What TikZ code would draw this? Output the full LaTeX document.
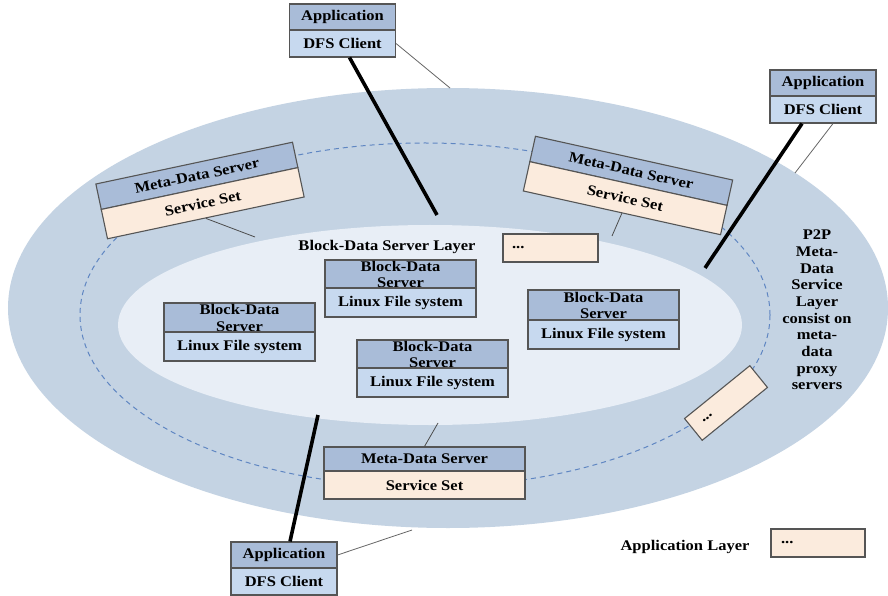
\documentclass[tikz,border=0pt]{standalone}
\usepackage{fontspec}
\setmainfont{Liberation Serif}[FakeStretch=1.12]
\usetikzlibrary{calc}
\definecolor{outerbg}{HTML}{C4D3E3}
\definecolor{innerbg}{HTML}{E8EEF6}
\definecolor{hdrc}{HTML}{A9BCD8}
\definecolor{bodyc}{HTML}{C7D9EF}
\definecolor{peach}{HTML}{FBEBDD}
\definecolor{edge}{HTML}{555555}
\definecolor{dashc}{HTML}{5F86C2}
\begin{document}
\begin{tikzpicture}[x=1bp,y=-1bp,
  every node/.style={font=\fontsize{14.8}{16.7}\selectfont\bfseries, text=black},
  cell/.style={draw=edge, line width=1.1bp, inner sep=0pt},
  hdr/.style={cell, fill=hdrc},
  bdy/.style={cell, fill=bodyc},
  svc/.style={cell, fill=peach},
  thickconn/.style={line width=3.6bp, black},
  thinconn/.style={line width=0.8bp, draw=black!60},
  plain/.style={inner sep=0pt, align=center}]
\fill[white] (0,0) rectangle (888,596);
\useasboundingbox (0,0) rectangle (888,596);
% layers
\fill[outerbg] (448,308) ellipse [x radius=440bp, y radius=220bp];
\fill[innerbg] (430,325) ellipse [x radius=312bp, y radius=100bp];
\draw[dashc, line width=1bp, dash pattern=on 5bp off 4bp] (425,315) ellipse [x radius=345bp, y radius=172bp];

% application boxes
\node[hdr, minimum width=106bp, minimum height=26bp] (appTh) at (342.5,17) {Application};
\node[bdy, minimum width=106bp, minimum height=27bp] (appTb) at (342.5,43.5) {DFS Client};
\node[hdr, minimum width=106bp, minimum height=26bp] (appRh) at (823,83) {Application};
\node[bdy, minimum width=106bp, minimum height=27bp] (appRb) at (823,109.5) {DFS Client};
\node[hdr, minimum width=106bp, minimum height=26bp] (appBh) at (284,555) {Application};
\node[bdy, minimum width=106bp, minimum height=27bp] (appBb) at (284,581.5) {DFS Client};

% connector ends
\coordinate (tT) at (437,215);
\coordinate (tR) at (705,268);
\coordinate (tB) at (318,415);
\coordinate (nT) at (450,88);
\coordinate (nR) at (795,173);
\coordinate (nB) at (412,530);
\draw[thickconn] ([xshift=7bp]appTb.south) -- (tT);
\draw[thinconn] (appTb.east) -- (nT);
\draw[thickconn] ([xshift=-21bp]appRb.south) -- (tR);
\draw[thinconn] ([xshift=10bp]appRb.south) -- (nR);
\draw[thickconn] ([xshift=6bp]appBh.north) -- (tB);
\draw[thinconn] (appBh.east) -- (nB);

% meta-data servers
\begin{scope}[shift={(200,190.5)}, rotate=12, transform shape]
  \node[hdr, minimum width=201bp, minimum height=26bp] (mLh) at (0,-15) {Meta-Data Server};
  \node[svc, minimum width=201bp, minimum height=30bp] (mLb) at (0,13) {Service Set};
\end{scope}
\begin{scope}[shift={(628,185.5)}, rotate=-12.5, transform shape]
  \node[hdr, minimum width=202bp, minimum height=26bp] (mRh) at (0,-15) {Meta-Data Server};
  \node[svc, minimum width=202bp, minimum height=30bp] (mRb) at (0,13) {Service Set};
\end{scope}
\node[hdr, minimum width=201bp, minimum height=24bp] (mBh) at (424.5,459) {Meta-Data Server};
\node[svc, minimum width=201bp, minimum height=28bp] (mBb) at (424.5,485) {Service Set};
\coordinate (eL) at (255,237);
\coordinate (eR) at (612,236);
\coordinate (eB) at (438,423);
\draw[thinconn, draw=black!70] (mLb.south) -- (eL);
\draw[thinconn, draw=black!70] (mRb.south) -- (eR);
\draw[thinconn, draw=black!70] (eB) -- (mBh.north);

% block-data layer
\node[plain] (layer) at (387,247) {Block-Data Server Layer};
\node[svc, minimum width=95bp, minimum height=28bp, inner xsep=9bp, text width=77bp, align=left] (dotsA) at (550.5,248) {...};

\node[hdr, minimum width=151bp, minimum height=28bp] (bBh) at (400.5,274) {};
\node[plain] (bBt) at (400.5,274.5) {Block-Data\\Server};
\node[bdy, minimum width=151bp, minimum height=29bp] (bBb) at (400.5,302.5) {Linux File system};

\node[hdr, minimum width=151bp, minimum height=29bp] (bAh) at (239.5,317.5) {};
\node[plain] (bAt) at (239.5,318) {Block-Data\\Server};
\node[bdy, minimum width=151bp, minimum height=29bp] (bAb) at (239.5,346.5) {Linux File system};

\node[hdr, minimum width=151bp, minimum height=28bp] (bCh) at (432.5,354) {};
\node[plain] (bCt) at (432.5,354.5) {Block-Data\\Server};
\node[bdy, minimum width=151bp, minimum height=29bp] (bCb) at (432.5,382.5) {Linux File system};

\node[hdr, minimum width=151bp, minimum height=30bp] (bDh) at (603.5,305) {};
\node[plain] (bDt) at (603.5,305.5) {Block-Data\\Server};
\node[bdy, minimum width=151bp, minimum height=29bp] (bDb) at (603.5,334.5) {Linux File system};

% rotated dots box
\begin{scope}[shift={(726,403)}, rotate=39, transform shape]
  \node[svc, minimum width=84bp, minimum height=28bp, inner xsep=12bp, text width=60bp, align=left] (dotsB) at (0,0) {...};
\end{scope}

% P2P label
\node[plain] (p2p) at (817,310) {P2P\\Meta-\\Data\\Service\\Layer\\consist on\\meta-\\data\\proxy\\servers};

% legend
\node[plain] (legtext) at (685,547) {Application Layer};
\node[svc, minimum width=94bp, minimum height=28bp, inner xsep=10bp, text width=74bp, align=left] (legbox) at (818,543) {...};
\end{tikzpicture}
\end{document}
